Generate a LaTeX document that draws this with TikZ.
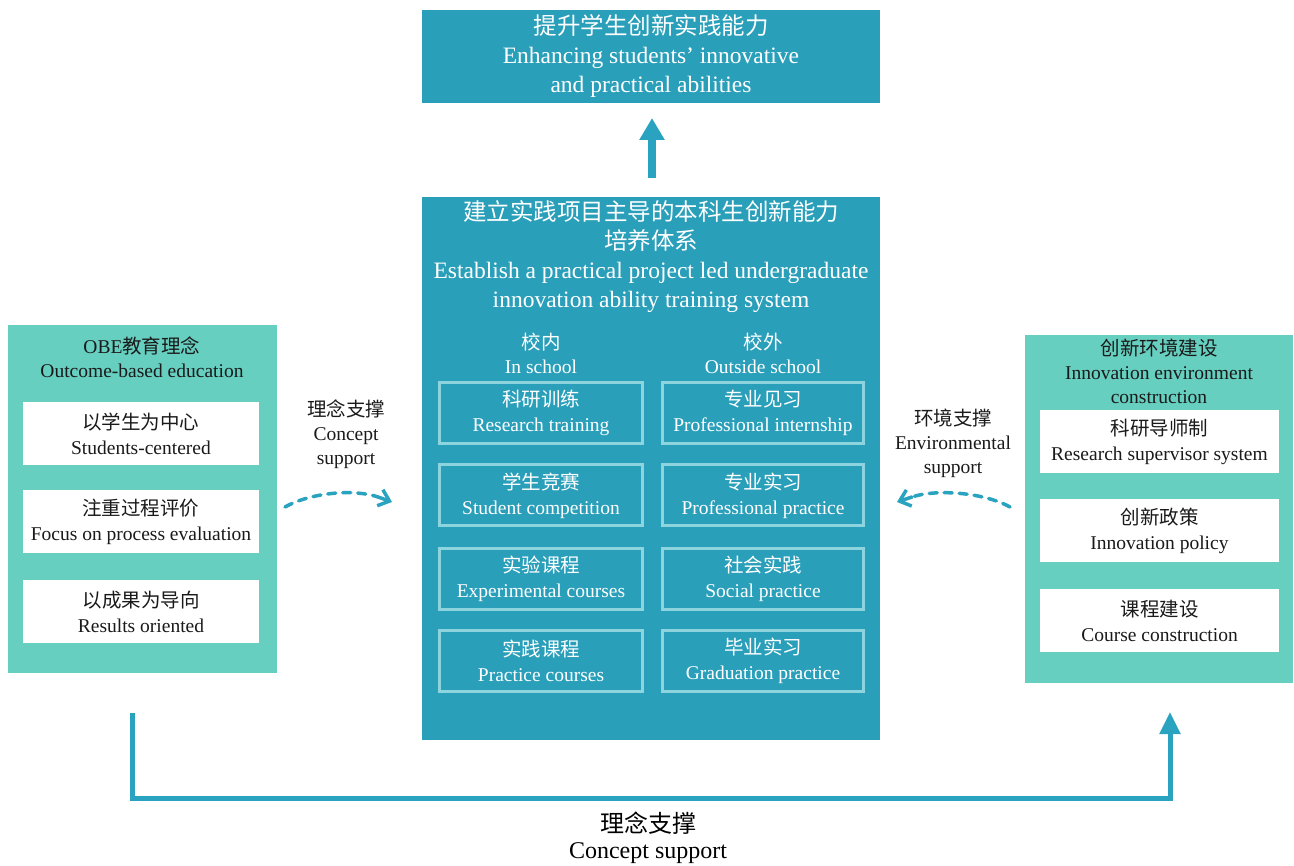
\documentclass[tikz,border=0pt]{standalone}
\usepackage{fontspec}
\setmainfont{Liberation Serif}
\newfontfamily\cjk{Noto Sans CJK SC}
\usetikzlibrary{arrows.meta}
\definecolor{cblue}{HTML}{2A9FBA}
\definecolor{cgreen}{HTML}{66CFC0}
\definecolor{cline}{HTML}{8ED4DE}
\definecolor{carrow}{HTML}{2AA3C0}
\definecolor{ctext}{HTML}{1A1A1A}
\tikzset{
  bluebox/.style={fill=cblue, draw=none, inner sep=0pt},
  greenbox/.style={fill=cgreen, draw=none, inner sep=0pt},
  bigtext/.style={text=white, align=center, inner sep=0pt, font=\fontsize{23.5}{29}\selectfont},
  subhead/.style={text=white, align=center, inner sep=0pt, font=\fontsize{19.5}{24}\selectfont},
  innerbox/.style={draw=cline, line width=3pt, fill=cblue, text=white, align=center, inner sep=0pt,
    minimum height=61pt, font=\fontsize{19.5}{25}\selectfont},
  whitebox/.style={fill=white, draw=none, text=ctext, align=center, inner sep=0pt,
    minimum height=63pt, font=\fontsize{19.5}{25}\selectfont},
  greentitle/.style={text=ctext, align=center, inner sep=0pt, font=\fontsize{19.5}{24}\selectfont},
  sidelabel/.style={text=ctext, align=center, inner sep=0pt, font=\fontsize{19.5}{24}\selectfont},
  dashcurve/.style={draw=carrow, line width=3.5pt, dash pattern=on 8pt off 7pt, line cap=round},
  chevron/.style={draw=carrow, line width=3.5pt, solid, line cap=round,
    -{Straight Barb[length=10pt,width=17pt,line width=3.5pt]}},
  loopline/.style={draw=carrow, line width=5pt, -{Triangle[length=22pt,width=20pt]}},
  uparrow/.style={draw=carrow, line width=8pt, -{Triangle[length=22pt,width=24pt]}},
  bottomtext/.style={text=black, inner sep=0pt, font=\fontsize{24}{28}\selectfont},
}
\begin{document}
\begin{tikzpicture}[x=1pt,y=-1pt]
\useasboundingbox (0,0) rectangle (1294,866);

% goal box
\node[bluebox, minimum width=458pt, minimum height=93pt] (goal) at (651,56.5) {};
\node[bigtext] (goaltxt) at (goal.center) {{\cjk 提升学生创新实践能力}\\Enhancing students’ innovative\\and practical abilities};

% center system box
\node[bluebox, minimum width=458pt, minimum height=543pt] (sys) at (651,468.5) {};
\node[bigtext] (systxt) at (651,257) {{\cjk 建立实践项目主导的本科生创新能力}\\{\cjk 培养体系}\\Establish a practical project led undergraduate\\innovation ability training system};
\node[subhead] (inhead) at (541,353) {{\cjk 校内}\\In school};
\node[subhead] (outhead) at (763,353) {{\cjk 校外}\\Outside school};

\node[innerbox, minimum width=203pt] (i1) at (541,413) {{\cjk 科研训练}\\Research training};
\node[innerbox, minimum width=203pt] (i2) at (541,495.5) {{\cjk 学生竞赛}\\Student competition};
\node[innerbox, minimum width=203pt] (i3) at (541,579) {{\cjk 实验课程}\\Experimental courses};
\node[innerbox, minimum width=203pt] (i4) at (541,661) {{\cjk 实践课程}\\Practice courses};
\node[innerbox, minimum width=201pt] (o1) at (763,413) {{\cjk 专业见习}\\Professional internship};
\node[innerbox, minimum width=201pt] (o2) at (763,495.5) {{\cjk 专业实习}\\Professional practice};
\node[innerbox, minimum width=201pt] (o3) at (763,579) {{\cjk 社会实践}\\Social practice};
\node[innerbox, minimum width=201pt] (o4) at (763,661) {{\cjk 毕业实习}\\Graduation practice};

% left OBE box
\node[greenbox, minimum width=269pt, minimum height=348pt] (obe) at (142.5,499) {};
\node[greentitle] (obetxt) at (142,357) {OBE{\cjk 教育理念}\\Outcome-based education};
\node[whitebox, minimum width=236pt] (l1) at (141,433.5) {{\cjk 以学生为中心}\\Students-centered};
\node[whitebox, minimum width=236pt] (l2) at (141,521.5) {{\cjk 注重过程评价}\\Focus on process evaluation};
\node[whitebox, minimum width=236pt] (l3) at (141,611.5) {{\cjk 以成果为导向}\\Results oriented};

% right environment box
\node[greenbox, minimum width=268pt, minimum height=348pt] (env) at (1159,509) {};
\node[greentitle] (envtxt) at (1159,371) {{\cjk 创新环境建设}\\Innovation environment\\construction};
\node[whitebox, minimum width=239pt] (r1) at (1159.5,441.5) {{\cjk 科研导师制}\\Research supervisor system};
\node[whitebox, minimum width=239pt] (r2) at (1159.5,530.5) {{\cjk 创新政策}\\Innovation policy};
\node[whitebox, minimum width=239pt] (r3) at (1159.5,620.5) {{\cjk 课程建设}\\Course construction};

% side labels
\node[sidelabel] (lab1) at (346,434) {{\cjk 理念支撑}\\Concept\\support};
\node[sidelabel] (lab2) at (953,443) {{\cjk 环境支撑}\\Environmental\\support};

% dashed arrows
\coordinate (d1s) at (285,507);
\coordinate (d1m) at (378,497);
\coordinate (d1e) at (392,502);
\draw[dashcurve] (d1s) .. controls (312,492) and (355,489) .. (d1m);
\draw[chevron] (d1m) -- (d1e);
\coordinate (d2s) at (1010,507);
\coordinate (d2m) at (912,497);
\coordinate (d2e) at (897,502);
\draw[dashcurve] (d2s) .. controls (983,492) and (935,489) .. (d2m);
\draw[chevron] (d2m) -- (d2e);

% up arrow
\coordinate (upS) at (652,178);
\coordinate (upE) at (652,118);
\draw[uparrow] (upS) -- (upE);

% bottom loop
\coordinate (bs) at (132,713);
\coordinate (bl) at (132,798);
\coordinate (br) at (1170,798);
\coordinate (be) at (1170,712);
\draw[loopline] (bs) -- (bl) -- (br) -- (be);
\node[bottomtext] (botzh) at (648,823) {\cjk 理念支撑};
\node[bottomtext] (boten) at (648,853) {Concept support};
\end{tikzpicture}
\end{document}
